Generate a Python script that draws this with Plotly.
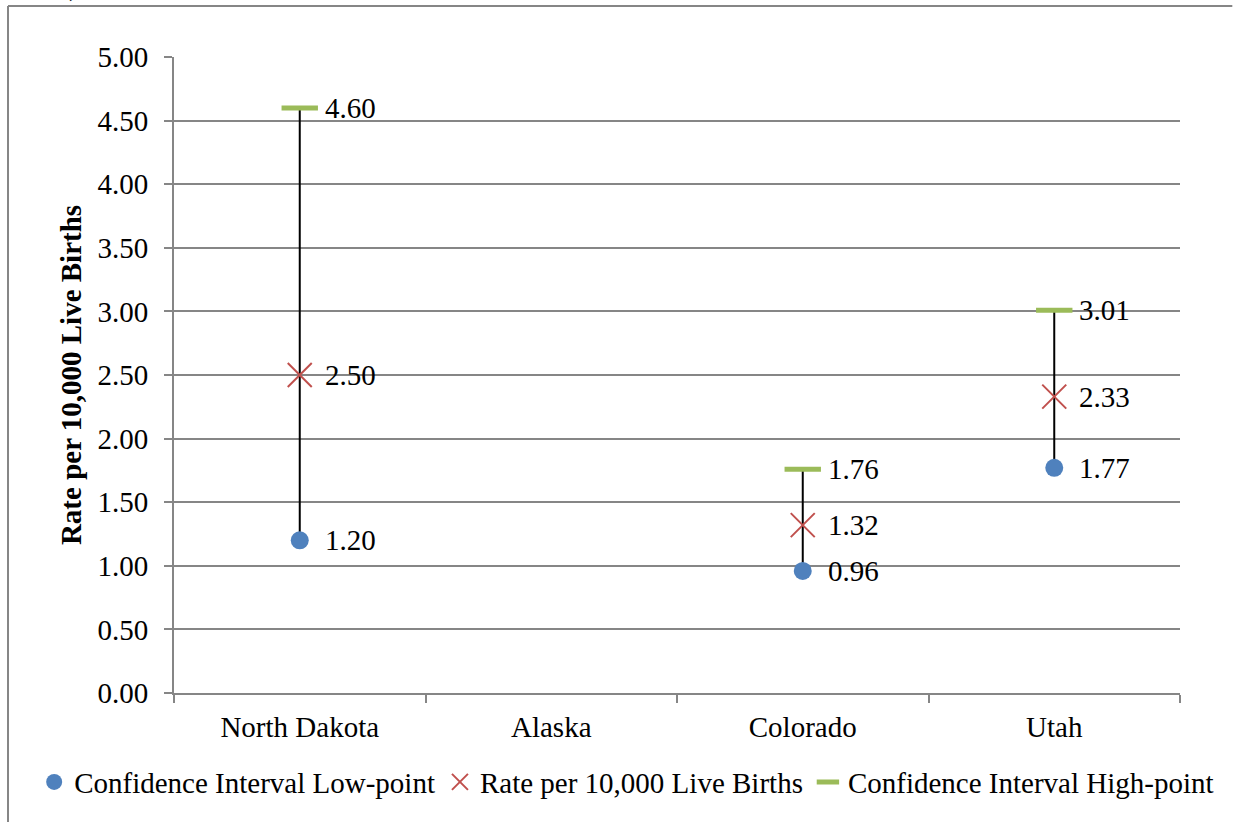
import plotly.graph_objects as go

# Values per state (Alaska has no reported rate)
states = ["North Dakota", "Alaska", "Colorado", "Utah"]
ci_low = [1.20, None, 0.96, 1.77]
rate = [2.50, None, 1.32, 2.33]
ci_high = [4.60, None, 1.76, 3.01]
y_ticks = [0.0, 0.5, 1.0, 1.5, 2.0, 2.5, 3.0, 3.5, 4.0, 4.5, 5.0]

FONT = "Liberation Serif, Times New Roman, serif"
FS = 29
GRID = "#868686"
BLUE = "#4F81BD"
RED = "#C0504D"
GREEN = "#9BBB59"

fig = go.Figure()

# High-low connector lines between the confidence interval ends
hl_x, hl_y = [], []
for s, lo, hi in zip(states, ci_low, ci_high):
    if lo is not None and hi is not None:
        hl_x += [s, s, None]
        hl_y += [lo, hi, None]
fig.add_trace(go.Scatter(
    x=hl_x, y=hl_y, mode="lines", line=dict(color="black", width=2),
    showlegend=False, hoverinfo="skip",
))

fig.add_trace(go.Scatter(
    x=states, y=ci_low, mode="markers", name="Confidence Interval Low-point",
    marker=dict(symbol="circle", size=18, color=BLUE),
))
fig.add_trace(go.Scatter(
    x=states, y=rate, mode="markers", name="Rate per 10,000 Live Births",
    marker=dict(symbol="x-thin", size=24, color=RED, line=dict(color=RED, width=2)),
))
fig.add_trace(go.Scatter(
    x=states, y=ci_high, mode="markers", name="Confidence Interval High-point",
    marker=dict(symbol="line-ew", size=26, color=GREEN, line=dict(color=GREEN, width=5)),
))

# Value labels placed to the right of each marker
annotations = []
for series in (ci_low, rate, ci_high):
    for s, v in zip(states, series):
        if v is None:
            continue
        annotations.append(dict(
            x=s, y=v, xref="x", yref="y", text=f"{v:.2f}", showarrow=False,
            xanchor="left", yanchor="middle", xshift=23,
            font=dict(family=FONT, size=FS, color="black"),
        ))

# clipped fragment of text above the chart frame
annotations.append(dict(
    text=")", xref="paper", yref="paper", x=(74 - 174) / 1006, y=1 + (57 - 4) / 636,
    xanchor="center", yanchor="bottom", showarrow=False,
    font=dict(family=FONT, size=FS, color="black"),
))

fig.update_layout(
    width=1241, height=822,
    margin=dict(l=174, r=61, t=57, b=129),
    paper_bgcolor="white", plot_bgcolor="white",
    font=dict(family=FONT, size=FS, color="black"),
    showlegend=True,
    legend=dict(
        orientation="h", x=-0.139, xanchor="left", y=-0.14, yanchor="middle",
        font=dict(family=FONT, size=FS, color="black"),
        bgcolor="rgba(0,0,0,0)", itemwidth=30,
    ),
    xaxis=dict(
        type="category", categoryorder="array", categoryarray=states,
        range=[-0.5, 3.5], showgrid=False, zeroline=False,
        showline=True, linecolor=GRID, linewidth=2,
        ticks="outside", tickson="boundaries", ticklen=8, tickcolor=GRID, tickwidth=2,
        ticklabelstandoff=7,
        tickfont=dict(family=FONT, size=FS, color="black"),
        fixedrange=True,
    ),
    yaxis=dict(
        range=[0, 5], tickvals=y_ticks, tickformat=".2f",
        showgrid=True, gridcolor=GRID, gridwidth=2, zeroline=False,
        showline=True, linecolor=GRID, linewidth=2,
        ticks="outside", ticklen=8, tickcolor=GRID, tickwidth=2,
        ticklabelstandoff=10,
        tickfont=dict(family=FONT, size=FS, color="black"),
        title=dict(text="<b>Rate per 10,000 Live Births</b>",
                   font=dict(family=FONT, size=FS, color="black"), standoff=7),
        fixedrange=True,
    ),
    shapes=[
        # outer chart frame (left and top edges)
        dict(type="line", xref="paper", yref="paper", x0=-0.165, x1=-0.165, y0=1.080, y1=-0.25,
             line=dict(color=GRID, width=2)),
        dict(type="line", xref="paper", yref="paper", x0=-0.165, x1=1.052, y0=1.080, y1=1.080,
             line=dict(color=GRID, width=2)),
    ],
    annotations=annotations,
)

fig.write_html("out.html")
